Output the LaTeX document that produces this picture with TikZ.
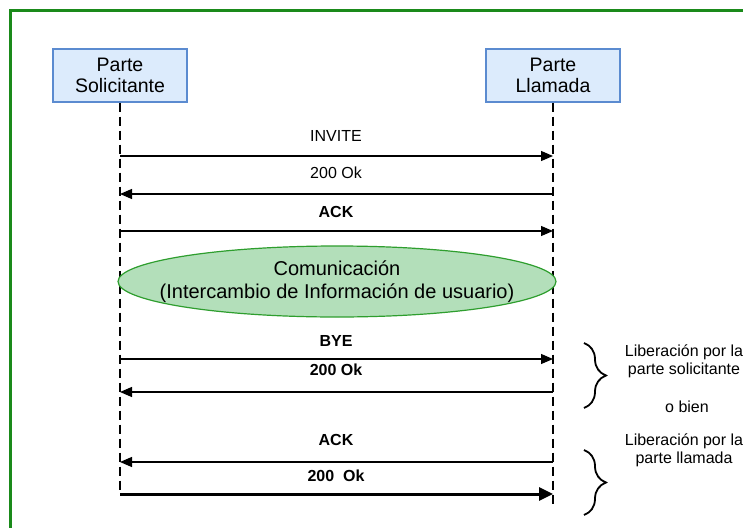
\documentclass[tikz,border=0pt]{standalone}
\usepackage{fontspec}
\setmainfont{Liberation Sans}
\usetikzlibrary{shapes.geometric,arrows.meta,decorations.pathreplacing}
\definecolor{framegreen}{HTML}{1A8A1A}
\definecolor{boxfill}{HTML}{DCEBFC}
\definecolor{boxdraw}{HTML}{5B8BD0}
\definecolor{ellfill}{HTML}{B3DFBA}
\definecolor{elldraw}{HTML}{2E9E2E}
\begin{document}
\begin{tikzpicture}[x=1pt,y=-1pt,
  party/.style={draw=boxdraw, fill=boxfill, line width=1.2pt, minimum width=134pt,
    minimum height=53pt, align=center, inner sep=0pt,
    font=\fontsize{19.5}{21.5}\selectfont},
  lifeline/.style={dash pattern=on 9pt off 5pt, line width=1.3pt},
  msg/.style={line width=1.2pt, -{Triangle[length=12pt,width=10pt]}},
  thickmsg/.style={line width=3pt, -{Triangle[length=14pt,width=13pt]}},
  lbl/.style={inner sep=0pt, font=\fontsize{16}{18}\selectfont},
  blbl/.style={inner sep=0pt, font=\fontsize{16}{18}\selectfont\bfseries},
  side/.style={inner sep=0pt, align=center, font=\fontsize{16}{18}\selectfont},
  brc/.style={line width=1.8pt, decorate, decoration={brace, amplitude=22pt}},
  comm/.style={ellipse, draw=elldraw, fill=ellfill, line width=1.2pt,
    minimum width=438pt, minimum height=71pt, inner sep=0pt},
  commtext/.style={inner sep=0pt, align=center, font=\fontsize{20}{23}\selectfont}
]
\useasboundingbox (0,0) rectangle (743,527);
\fill[white] (0,0) rectangle (743,527);
% frame
\draw[framegreen, line width=3pt] (10,540) -- (10,11) -- (760,11);

% parties
\node[party] (A) at (120,75.5) {Parte\\Solicitante};
\node[party] (B) at (553,75.5) {Parte\\Llamada};

% lifeline ends
\coordinate (Aend) at (120,494);
\coordinate (Bend) at (553,505);
\draw[lifeline] (A.south) -- (Aend);
\draw[lifeline] (B.south) -- (Bend);

% message endpoints
\foreach \n/\y in {1/156,2/194,3/231,4/359,5/392,6/462,7/494}{
  \coordinate (a\n) at (120,\y);
  \coordinate (b\n) at (553,\y);
}

% messages
\draw[msg] (a1) -- (b1);
\node[lbl] (m1) at (336,136) {INVITE};
\draw[msg] (b2) -- (a2);
\node[lbl] (m2) at (336,173) {200 Ok};
\draw[msg] (a3) -- (b3);
\node[blbl] (m3) at (336,212) {ACK};

\node[comm] (C) at (337,281.5) {};
\node[commtext] (Ct) at (C.center) {Comunicación\\(Intercambio de Información de usuario)};

\draw[msg] (a4) -- (b4);
\node[blbl] (m4) at (336,341) {BYE};
\draw[msg] (b5) -- (a5);
\node[blbl] (m5) at (336,370) {200 Ok};
\draw[msg] (b6) -- (a6);
\node[blbl] (m6) at (336,440) {ACK};
\draw[thickmsg] (a7) -- (b7);
\node[blbl] (m7) at (336,476) {200~ Ok};

% braces
\coordinate (br1t) at (584,343);
\coordinate (br1b) at (584,408);
\coordinate (br2t) at (584,450);
\coordinate (br2b) at (584,515);
\draw[brc] (br1t) -- (br1b);
\draw[brc] (br2t) -- (br2b);

% side texts
\node[side] (s1) at (684,361) {Liberación por la\\parte solicitante};
\node[side] (s2) at (687,407) {o bien};
\node[side] (s3) at (684,450) {Liberación por la\\parte llamada};
\end{tikzpicture}
\end{document}
